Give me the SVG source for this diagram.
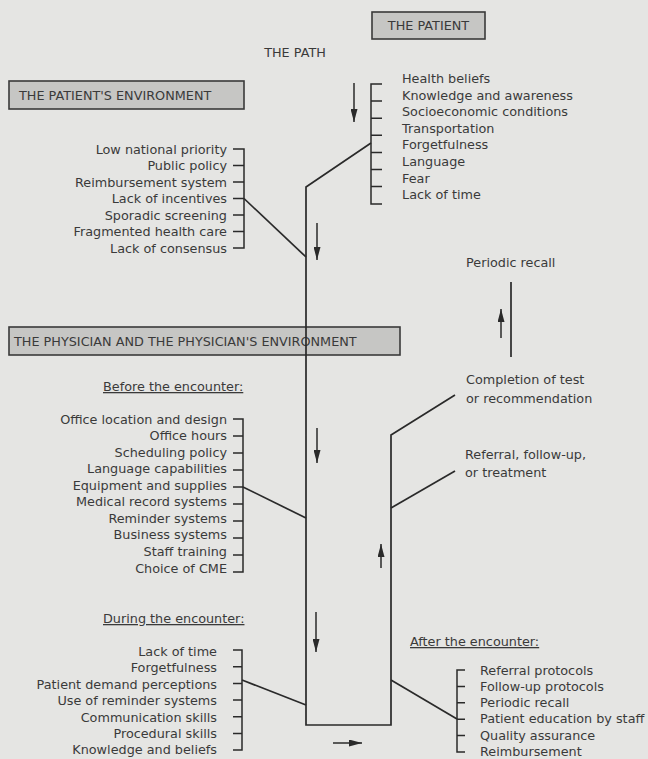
<svg xmlns="http://www.w3.org/2000/svg" width="648" height="759" viewBox="0 0 648 759">
<defs>
<style>
text{font-family:"DejaVu Sans","Liberation Sans",sans-serif;font-size:12.8px;fill:#3a3a3a}
.end{text-anchor:end}
.mid{text-anchor:middle}
.ul{text-decoration:underline}
.box{fill:#c6c6c4;stroke:#3a3a3a;stroke-width:1.6}
.ln{stroke:#2a2a2a;stroke-width:1.7;fill:none}
.tk{stroke:#2a2a2a;stroke-width:1.5;fill:none}
.ar{stroke:#2a2a2a;stroke-width:1.5;fill:none;marker-end:url(#ah)}
</style>
<marker id="ah" markerUnits="userSpaceOnUse" markerWidth="13" markerHeight="7" viewBox="0 0 13 7" refX="13" refY="3.5" orient="auto">
<path d="M0,0 L13,3.5 L0,7 z" fill="#2a2a2a"/>
</marker>
</defs>
<rect width="648" height="759" fill="#e5e5e3"/>

<g id="the-patient">
<rect class="box" x="372" y="12" width="113" height="27"/>
<text class="mid" x="428.5" y="30">THE PATIENT</text>
</g>
<g id="the-path">
<text class="mid" x="295" y="57">THE PATH</text>
</g>
<g id="patient-environment">
<rect class="box" x="9" y="81" width="235" height="28"/>
<text x="19" y="100">THE PATIENT'S ENVIRONMENT</text>
</g>
<g id="physician">
<rect class="box" x="9" y="327" width="391" height="28"/>
<text x="14" y="346">THE PHYSICIAN AND THE PHYSICIAN'S ENVIRONMENT</text>
</g>

<g id="patient-factors">
<text x="402" y="83">Health beliefs</text>
<text x="402" y="99.6">Knowledge and awareness</text>
<text x="402" y="116.2">Socioeconomic conditions</text>
<text x="402" y="132.8">Transportation</text>
<text x="402" y="149.4">Forgetfulness</text>
<text x="402" y="166">Language</text>
<text x="402" y="182.6">Fear</text>
<text x="402" y="199.2">Lack of time</text>
<path class="tk" d="M382,84H371V204H382M371,101.1H382M371,118.2H382M371,135.3H382M371,152.4H382M371,169.5H382M371,186.6H382"/>
</g>

<g id="environment-factors">
<text class="end" x="227" y="153.5">Low national priority</text>
<text class="end" x="227" y="170">Public policy</text>
<text class="end" x="227" y="186.5">Reimbursement system</text>
<text class="end" x="227" y="203">Lack of incentives</text>
<text class="end" x="227" y="219.5">Sporadic screening</text>
<text class="end" x="227" y="236">Fragmented health care</text>
<text class="end" x="227" y="252.5">Lack of consensus</text>
<path class="tk" d="M233,149H244V248H233M233,165.5H244M233,182H244M233,198.5H244M233,215H244M233,231.5H244"/>
</g>

<g id="before-encounter">
<text class="ul" x="103" y="391">Before the encounter:</text>
<text class="end" x="227" y="423.5">Office location and design</text>
<text class="end" x="227" y="440">Office hours</text>
<text class="end" x="227" y="456.6">Scheduling policy</text>
<text class="end" x="227" y="473.2">Language capabilities</text>
<text class="end" x="227" y="489.7">Equipment and supplies</text>
<text class="end" x="227" y="506.3">Medical record systems</text>
<text class="end" x="227" y="522.8">Reminder systems</text>
<text class="end" x="227" y="539.4">Business systems</text>
<text class="end" x="227" y="555.9">Staff training</text>
<text class="end" x="227" y="572.5">Choice of CME</text>
<path class="tk" d="M233,419H243V572H233M233,436H243M233,453H243M233,470H243M233,487H243M233,504H243M233,521H243M233,538H243M233,555H243"/>
</g>

<g id="during-encounter">
<text class="ul" x="103" y="623">During the encounter:</text>
<text class="end" x="217" y="656">Lack of time</text>
<text class="end" x="217" y="672.4">Forgetfulness</text>
<text class="end" x="217" y="688.8">Patient demand perceptions</text>
<text class="end" x="217" y="705.2">Use of reminder systems</text>
<text class="end" x="217" y="721.6">Communication skills</text>
<text class="end" x="217" y="738">Procedural skills</text>
<text class="end" x="217" y="754.4">Knowledge and beliefs</text>
<path class="tk" d="M233,650H242V750H233M233,666.7H242M233,683.4H242M233,700.1H242M233,716.8H242M233,733.5H242"/>
</g>

<g id="after-encounter">
<text class="ul" x="410" y="646">After the encounter:</text>
<text x="480" y="674.5">Referral protocols</text>
<text x="480" y="690.8">Follow-up protocols</text>
<text x="480" y="707.1">Periodic recall</text>
<text x="480" y="723.4">Patient education by staff</text>
<text x="480" y="739.7">Quality assurance</text>
<text x="480" y="756">Reimbursement</text>
<path class="tk" d="M465,670H457V752H465M457,686.4H465M457,702.8H465M457,719.2H465M457,735.6H465"/>
</g>

<g id="periodic-recall">
<text x="466" y="267">Periodic recall</text>
</g>
<g id="completion">
<text x="466" y="384">Completion of test</text>
<text x="466" y="403">or recommendation</text>
</g>
<g id="referral">
<text x="465" y="459">Referral, follow-up,</text>
<text x="465" y="477">or treatment</text>
</g>

<g id="connectors">
<path class="ln" d="M371,143L306,187V725H391V435L455,395"/>
<path class="ln" d="M244,198.5L306,257"/>
<path class="ln" d="M243,487L306,518"/>
<path class="ln" d="M242,680L306,705"/>
<path class="ln" d="M391,680L457,719"/>
<path class="ln" d="M391,508L455,471"/>
<path class="ln" d="M511,282V357"/>
<path class="ar" d="M354,83V122"/>
<path class="ar" d="M317,223V260"/>
<path class="ar" d="M317,428V463"/>
<path class="ar" d="M381,568V544"/>
<path class="ar" d="M316,612V652"/>
<path class="ar" d="M333,743H362"/>
<path class="ar" d="M501,338V309"/>
</g>
</svg>
